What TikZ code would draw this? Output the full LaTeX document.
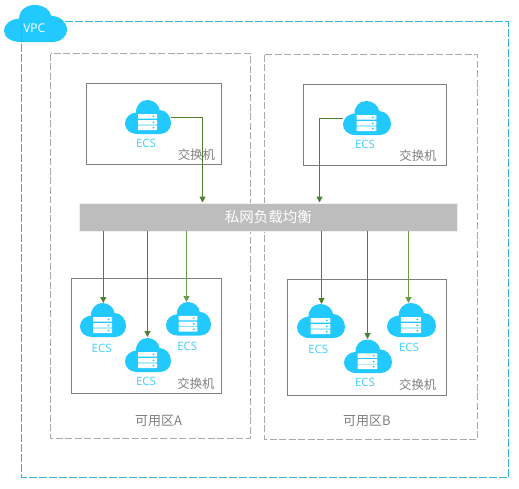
\documentclass[tikz,border=0pt]{standalone}
\usepackage{fontspec}
\setmainfont{Open Sans}
\newfontfamily\cjk{Noto Sans CJK SC}
\usetikzlibrary{arrows.meta}
\definecolor{cloudblue}{HTML}{22C9FF}
\definecolor{ecsblue}{HTML}{3FD0FF}
\definecolor{vpcline}{HTML}{2FB3D6}
\definecolor{azline}{HTML}{A9A9A9}
\definecolor{swline}{HTML}{808080}
\definecolor{txtgrey}{HTML}{808080}
\definecolor{arrowgreen}{HTML}{4F7F2F}
\definecolor{arrowlight}{HTML}{689A48}
\definecolor{barfill}{HTML}{BDBDBD}
\definecolor{barline}{HTML}{EFEFEF}
\tikzset{
  vpcbox/.style={draw=vpcline,line width=0.9pt,dash pattern=on 8pt off 2pt},
  azbox/.style={draw=azline,line width=0.9pt,dash pattern=on 7pt off 2.5pt},
  anchorbox/.style={rectangle,inner sep=0pt,outer sep=0pt},
  swbox/.style={anchorbox,draw=swline,line width=1pt},
  lbl/.style={text=txtgrey,font=\fontsize{12.4}{14}\selectfont\cjk,inner sep=0pt},
  azlbl/.style={text=txtgrey,font=\fontsize{13}{15}\selectfont\cjk,inner sep=0pt},
  ecslbl/.style={text=ecsblue,font=\fontsize{11.5}{13}\selectfont,inner sep=0pt},
  link/.style={draw=arrowgreen,line width=1pt,-{Triangle[length=6pt,width=6pt]}},
  linklight/.style={link,draw=arrowlight},
}
% cloud outline in a 46 x 34 frame
\newcommand{\cloudpath}{
  \fill[cloudblue] (12,34) .. controls (5,34) and (0,29.5) .. (0,23.5)
    .. controls (0,17.5) and (5,13) .. (11,12.5)
    .. controls (11,5) and (16,0) .. (22.5,0)
    .. controls (29,0) and (34,5) .. (34.5,10)
    .. controls (41,10) and (46,16) .. (46,23)
    .. controls (46,29.5) and (41,34) .. (35,34) -- cycle;
}
% #1 name, #2 left, #3 top, #4 width, #5 height
\newcommand{\ecscloud}[5]{
  \begin{scope}[shift={(#2,#3)},x=#4pt/46,y=-#5pt/34]
    \cloudpath
    \foreach \ya/\yb in {14/18.7,20/24.7,25.3/30}{
      \fill[white,rounded corners=0.5pt] (13,\ya) rectangle (32,\yb);
      \fill[cloudblue] (28.5,{(\ya+\yb)/2}) circle[radius=1];
    }
  \end{scope}
  \node[anchorbox,minimum width=#4pt,minimum height=#5pt] (#1) at ({#2+#4/2},{#3+#5/2}) {};
}
\begin{document}
\begin{tikzpicture}[x=1pt,y=-1pt]
\useasboundingbox (0,0) rectangle (519,488);
\fill[white] (0,0) rectangle (519,488);

% VPC cloud and frame
\begin{scope}[shift={(4,5)},x=63pt/46,y=-37pt/34]
  \cloudpath
\end{scope}
\draw[vpcbox] (55,21.5) -- (508,21.5) -- (508,477) -- (21.5,477) -- (21.5,21.5);
\node[text=white,font=\fontsize{12}{14}\selectfont,inner sep=0pt] (vpc) at (34.3,28) {VPC};

% zones
\draw[azbox] (50.5,53.5) rectangle (250.5,438);
\draw[azbox] (264.5,54.5) rectangle (477.5,439);
\node[azlbl] (azA) at (158.5,420.7) {可用区A};
\node[azlbl] (azB) at (367,420.7) {可用区B};

% switches
\node[swbox,minimum width=135pt,minimum height=81pt] (swA1) at (154,124) {};
\node[swbox,minimum width=143pt,minimum height=81pt] (swB1) at (375,125) {};
\node[swbox,minimum width=150pt,minimum height=115.5pt] (swA2) at (146.5,336.2) {};
\node[swbox,minimum width=159pt,minimum height=116pt] (swB2) at (367,337.5) {};
\node[lbl] (tA1) at (196.5,154.5) {交换机};
\node[lbl] (tB1) at (418,155.5) {交换机};
\node[lbl] (tA2) at (196,384) {交换机};
\node[lbl] (tB2) at (417.7,385) {交换机};

% load balancer
\node[anchorbox,fill=barfill,draw=barline,line width=0.8pt,minimum width=378.5pt,minimum height=27.5pt] (bar) at (268.5,217.5) {};
\node[text=white,font=\fontsize{14.5}{16}\selectfont\cjk,inner sep=0pt] (barlbl) at (268.3,217) {私网负载均衡};

% ECS
\ecscloud{ca}{125}{100}{46}{34}
\ecscloud{cb}{343}{101}{48}{34}
\ecscloud{a1}{80}{303}{46}{34}
\ecscloud{a2}{125}{338}{46}{34}
\ecscloud{a3}{166}{302}{45}{33.5}
\ecscloud{b1}{297}{304}{48}{34}
\ecscloud{b2}{344}{339.5}{48}{33.5}
\ecscloud{b3}{387}{303}{49}{34}
\node[ecslbl] (la)  at (146,143) {ECS};
\node[ecslbl] (lb)  at (365,144) {ECS};
\node[ecslbl] (la1) at (101.7,348) {ECS};
\node[ecslbl] (la2) at (146,381) {ECS};
\node[ecslbl] (la3) at (187.3,346) {ECS};
\node[ecslbl] (lb1) at (318.3,349) {ECS};
\node[ecslbl] (lb2) at (365,382) {ECS};
\node[ecslbl] (lb3) at (409,347) {ECS};

% connector ends
\coordinate (inA) at (202.5,202.5);
\coordinate (inB) at (319.5,202.5);
\coordinate (ta1) at (103.3,303);
\coordinate (ta2) at (147.5,337);
\coordinate (ta3) at (186.5,302);
\coordinate (tb1) at (321.5,304);
\coordinate (tb2) at (367.5,339);
\coordinate (tb3) at (408.5,303);

\draw[link] (ca.east) -| (inA);
\draw[link] (cb.west) -| (inB);
\draw[link] (bar.south -| ta1) -- (ta1);
\draw[link] (bar.south -| ta2) -- (ta2);
\draw[linklight] (bar.south -| ta3) -- (ta3);
\draw[link] (bar.south -| tb1) -- (tb1);
\draw[link] (bar.south -| tb2) -- (tb2);
\draw[linklight] (bar.south -| tb3) -- (tb3);
\end{tikzpicture}
\end{document}
